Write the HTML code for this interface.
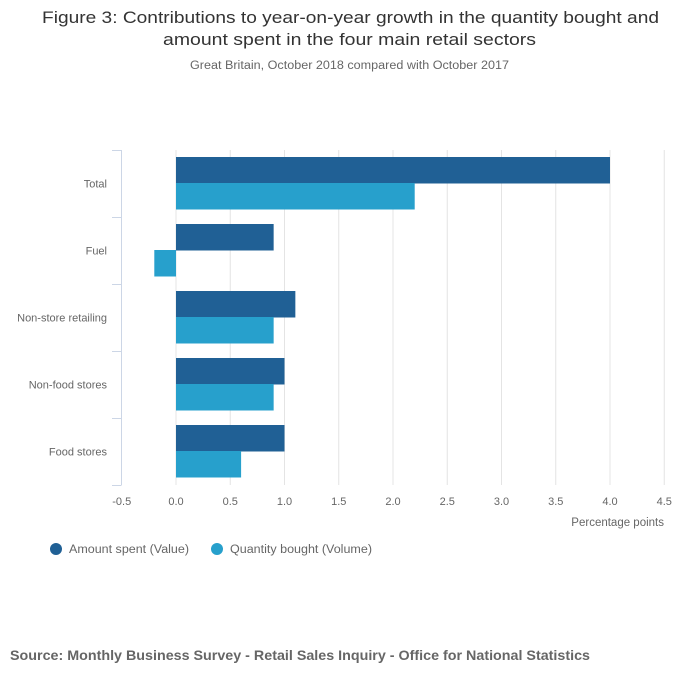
<!DOCTYPE html>
<html><head><meta charset="utf-8"><style>
body{margin:0;background:#fff;font-family:"Liberation Sans",sans-serif;}
</style></head><body>
<svg width="700" height="682" xmlns="http://www.w3.org/2000/svg" font-family="Liberation Sans, sans-serif">
<text x="42" y="23" textLength="617" lengthAdjust="spacingAndGlyphs" font-size="17" fill="#333">Figure 3: Contributions to year-on-year growth in the quantity bought and</text>
<text x="163" y="45" textLength="373" lengthAdjust="spacingAndGlyphs" font-size="17" fill="#333">amount spent in the four main retail sectors</text>
<text x="190" y="69" textLength="319" lengthAdjust="spacingAndGlyphs" font-size="11.5" fill="#666">Great Britain, October 2018 compared with October 2017</text>
<g id="grid"></g><g id="bars"></g><g id="axes"></g>
<text x="664" y="526" text-anchor="end" font-size="11.5" fill="#666">Percentage points</text>
<circle cx="56" cy="549" r="6" fill="#206095"/>
<text x="69" y="553" textLength="120" lengthAdjust="spacingAndGlyphs" font-size="11.5" fill="#666">Amount spent (Value)</text>
<circle cx="217" cy="549" r="6" fill="#27a0cc"/>
<text x="230" y="553" textLength="142" lengthAdjust="spacingAndGlyphs" font-size="11.5" fill="#666">Quantity bought (Volume)</text>
<text x="10" y="660" textLength="580" lengthAdjust="spacingAndGlyphs" font-size="14" font-weight="bold" fill="#666">Source: Monthly Business Survey - Retail Sales Inquiry - Office for National Statistics</text>
</svg>
<script>
const categories=["Total","Fuel","Non-store retailing","Non-food stores","Food stores"];
const valueSeries=[4.0,0.9,1.1,1.0,1.0];
const volumeSeries=[2.2,-0.2,0.9,0.9,0.6];
const ticks=[-0.5,0,0.5,1,1.5,2,2.5,3,3.5,4,4.5];
const NS="http://www.w3.org/2000/svg";
const x=v=>176+v*108.5;
const top0=150,band=67;
function mk(t,a,p){const e=document.createElementNS(NS,t);for(const k in a)e.setAttribute(k,a[k]);p.appendChild(e);return e;}
const grid=document.getElementById('grid'),bars=document.getElementById('bars'),axes=document.getElementById('axes');
ticks.forEach(t=>{
  if(t>-0.5){const l=mk('line',{x1:x(t),x2:x(t),y1:top0,y2:top0+band*5,stroke:'#e4e4e4'},grid);
  
  }
  const tx=mk('text',{x:x(t),y:505,'text-anchor':'middle','font-size':'11','fill':'#666'},axes);
  tx.textContent=t.toFixed(1);
  
  
});
const ax=mk('line',{x1:121.5,x2:121.5,y1:top0,y2:top0+band*5,stroke:'#ccd6e6'},axes);


for(let i=0;i<=5;i++){const tk=mk('line',{x1:112,x2:121.5,y1:top0+band*i+0.5,y2:top0+band*i+0.5,stroke:'#ccd6e6'},axes);

}
categories.forEach((c,i)=>{
  const y0=top0+band*i;
  const lb=mk('text',{x:107,y:y0+band/2+4,'text-anchor':'end','font-size':'11','fill':'#666'},axes);
  lb.textContent=c;
  
  
  [[valueSeries[i],'#206095',7,'bar-value'],[volumeSeries[i],'#27a0cc',33,'bar-volume']].forEach(([v,col,off,nm])=>{
    const r=mk('rect',{x:Math.min(x(0),x(v)),y:y0+off,width:Math.abs(x(v)-x(0)),height:26.5,fill:col},bars);
    
    
  });
});
</script>
</body></html>
